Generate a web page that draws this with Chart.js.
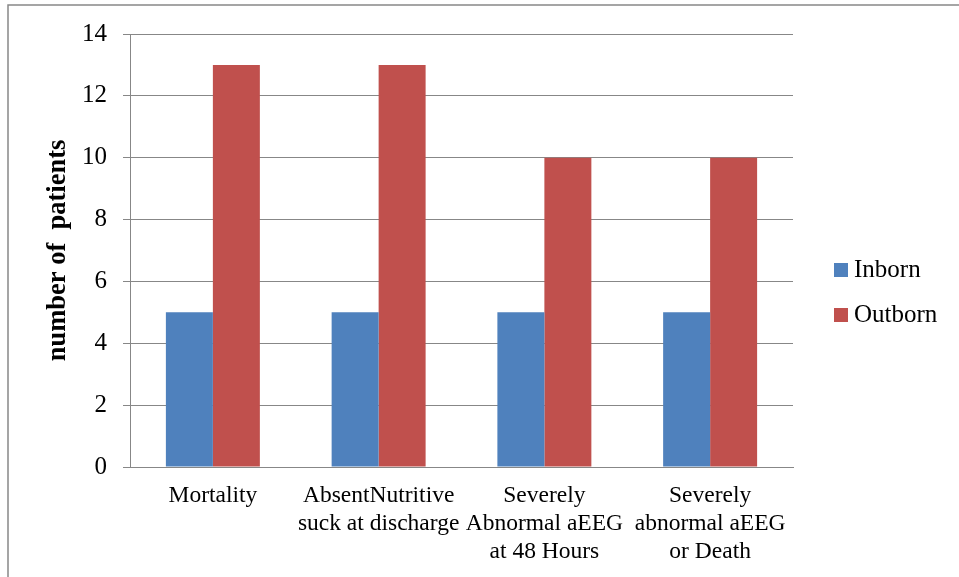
<!DOCTYPE html>
<html>
<head>
<meta charset="utf-8">
<script src="https://cdn.jsdelivr.net/npm/chart.js@4"></script>
<style>
  html, body { margin: 0; padding: 0; background: #ffffff; }
  #wrap { position: relative; width: 959px; height: 577px; }
</style>
</head>
<body>
<div id="wrap"><canvas id="myChart" width="959" height="577"></canvas></div>
<script>
const categories = [
    ['Mortality'],
    ['AbsentNutritive', 'suck at discharge'],
    ['Severely', 'Abnormal aEEG', 'at 48 Hours'],
    ['Severely', 'abnormal aEEG', 'or Death']
];
const inbornValues = [5, 5, 5, 5];
const outbornValues = [13, 13, 10, 10];
const yTicks = [0, 2, 4, 6, 8, 10, 12, 14];

const gridColor = '#878787';
const serif = "'Liberation Serif', 'Times New Roman', serif";

// frame around the picture (top and left edges only)
const framePlugin = {
    id: 'frame',
    beforeDraw(chart) {
        const ctx = chart.ctx;
        ctx.save();
        ctx.strokeStyle = '#888888';
        ctx.lineWidth = 1.5;
        ctx.beginPath();
        ctx.moveTo(8, 577);
        ctx.lineTo(8, 5);
        ctx.lineTo(959, 5);
        ctx.stroke();
        ctx.restore();
    }
};

// legend drawn on the right, built from the datasets
const sideLegend = {
    id: 'sideLegend',
    afterDraw(chart) {
        const ctx = chart.ctx;
        ctx.save();
        ctx.font = '25px ' + serif;
        ctx.textBaseline = 'alphabetic';
        ctx.textAlign = 'left';
        chart.data.datasets.forEach((ds, i) => {
            const top = 263 + i * 45;
            ctx.fillStyle = ds.backgroundColor;
            ctx.fillRect(834, top, 14, 14);
            ctx.fillStyle = '#000000';
            ctx.fillText(ds.label, 854, top + 14);
        });
        ctx.restore();
    }
};

const ctx = document.getElementById('myChart').getContext('2d');
const myChart = new Chart(ctx, {
    type: 'bar',
    data: {
        labels: categories,
        datasets: [{
            label: 'Inborn',
            data: inbornValues,
            backgroundColor: '#4F81BD'
        }, {
            label: 'Outborn',
            data: outbornValues,
            backgroundColor: '#C0504D'
        }]
    },
    options: {
        responsive: false,
        animation: false,
        layout: {
            padding: { top: 34, left: 40, right: 166, bottom: 0 }
        },
        datasets: {
            bar: { categoryPercentage: 0.567, barPercentage: 1 }
        },
        plugins: {
            legend: { display: false },
            tooltip: { enabled: false }
        },
        scales: {
            x: {
                grid: { display: false, drawTicks: false },
                border: { display: true, color: gridColor, width: 1 },
                ticks: {
                    color: '#000000',
                    font: { family: serif, size: 23.5, lineHeight: 1.19 },
                    padding: 15,
                    maxRotation: 0,
                    autoSkip: false
                },
                afterFit(scale) { scale.height = 110; }
            },
            y: {
                min: 0,
                max: 14,
                afterBuildTicks(scale) {
                    scale.ticks = yTicks.map(v => ({ value: v }));
                },
                grid: { color: gridColor, lineWidth: 1, drawTicks: true, tickLength: 7 },
                border: { display: true, color: gridColor, width: 1 },
                ticks: {
                    color: '#000000',
                    font: { family: serif, size: 25 },
                    padding: 16
                },
                title: {
                    display: true,
                    text: 'number of  patients',
                    color: '#000000',
                    font: { family: serif, size: 26.5, weight: 'bold', lineHeight: 1.2 },
                    padding: { top: 2, bottom: 0 }
                },
                afterFit(scale) { scale.width = 90; }
            }
        }
    },
    plugins: [framePlugin, sideLegend]
});
</script>
</body>
</html>
